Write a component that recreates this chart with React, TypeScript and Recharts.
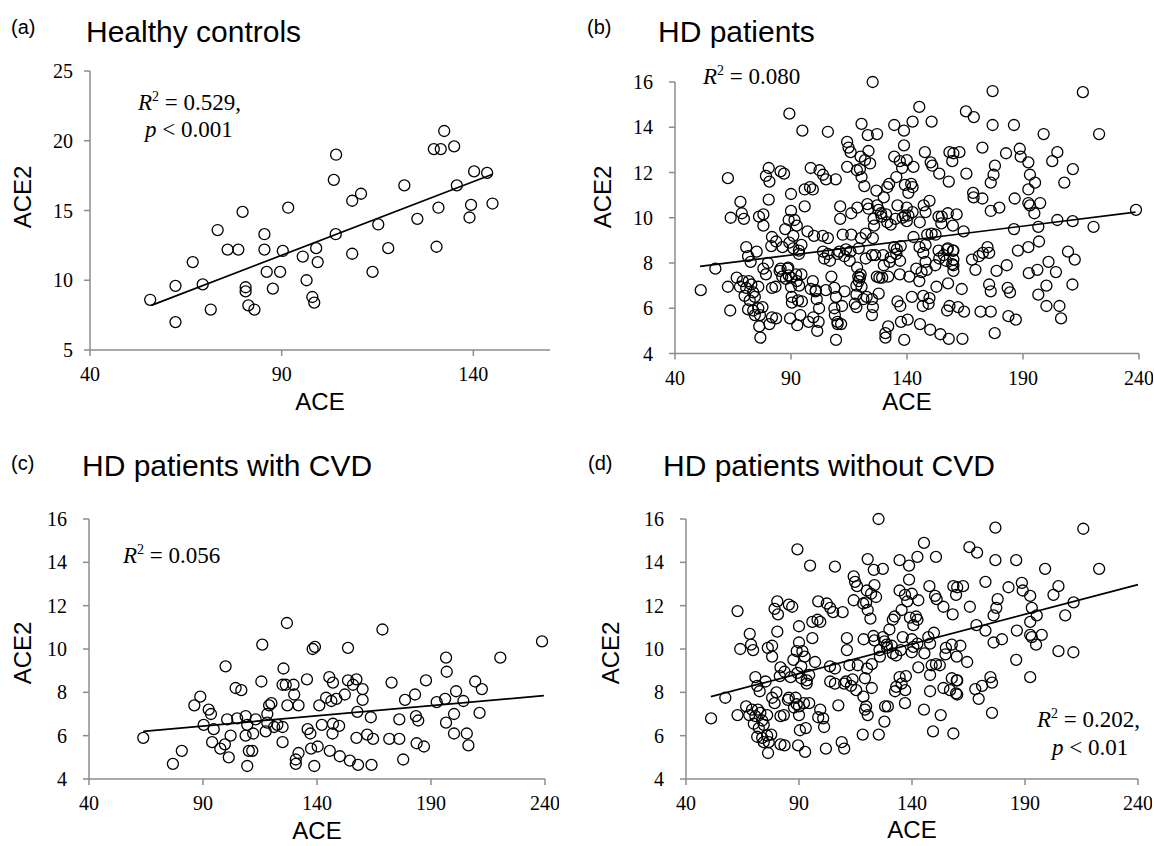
import React from "react";
import { ScatterChart, Scatter, XAxis, YAxis } from "recharts";

// ACE (x) vs ACE2 (y)
const healthy: [number, number][] = [
  [55.7, 8.6], [62.3, 9.6], [62.3, 7.0], [66.8, 11.3], [69.4, 9.7], [71.5, 7.9], [73.3, 13.6],
  [75.9, 12.2], [78.7, 12.2], [79.8, 14.9], [80.6, 9.5], [80.6, 9.2], [81.3, 8.2], [82.9, 7.9],
  [85.5, 13.3], [85.5, 12.2], [86.1, 10.6], [87.7, 9.4], [89.6, 10.6], [90.3, 12.1], [91.7, 15.2],
  [95.5, 11.7], [96.5, 10.0], [98.0, 8.8], [98.5, 8.4], [99.0, 12.3], [99.4, 11.3], [103.6, 17.2],
  [104.2, 19.0], [104.1, 13.3], [108.4, 15.7], [108.4, 11.9], [110.7, 16.2], [113.7, 10.6],
  [115.2, 14.0], [117.8, 12.3], [122.0, 16.8], [125.4, 14.4], [129.7, 19.4], [130.4, 12.4],
  [130.9, 15.2], [131.5, 19.4], [132.4, 20.7], [135.0, 19.6], [135.7, 16.8], [139.0, 14.5],
  [139.4, 15.4], [140.2, 17.8], [143.6, 17.7], [145.0, 15.5],
];

const withCvd: [number, number][] = [
  [63.8, 5.9], [76.8, 4.7], [80.7, 5.3], [86.2, 7.4], [88.8, 7.8], [90.3, 6.5], [92.5, 7.2],
  [93.5, 7.0], [94.7, 6.3], [94.0, 5.7], [97.6, 5.4], [99.6, 5.6], [101.3, 5.0], [99.9, 9.2],
  [102.1, 6.0], [100.6, 6.75], [104.3, 8.2], [106.8, 8.1], [105.0, 6.8], [108.7, 6.9], [108.7, 6.0],
  [109.4, 4.6], [110.1, 5.3], [111.6, 5.3], [109.4, 6.5], [112.0, 6.1], [113.1, 6.75], [115.6, 8.5],
  [116.0, 10.2], [117.5, 6.2], [118.2, 7.0], [119.0, 7.4], [120.0, 7.5], [118.2, 6.6], [121.2, 6.4],
  [122.6, 6.5], [124.9, 6.4], [124.9, 5.7], [125.3, 9.1], [124.9, 8.35], [126.3, 8.35], [126.8, 11.2],
  [127.0, 7.4], [129.7, 8.35], [130.0, 7.9], [131.9, 7.4], [130.7, 4.9], [130.7, 4.7], [131.9, 5.2],
  [135.6, 8.6], [135.9, 6.3], [137.1, 6.1], [137.4, 5.4], [138.1, 10.0], [139.1, 10.1], [138.8, 4.6],
  [140.3, 5.5], [141.0, 7.4], [142.1, 6.5], [144.0, 7.75], [145.4, 8.7],
  [168.7, 10.9], [238.7, 10.35], [220.4, 9.6], [196.6, 9.6], [196.9, 8.95], [153.6, 10.05],
  [147.0, 8.45], [153.6, 8.55], [157.3, 8.6], [155.8, 8.35], [160.0, 8.15], [172.7, 8.45],
  [187.8, 8.55], [183.0, 7.9], [178.6, 7.65], [160.0, 7.65], [152.2, 7.9], [148.5, 7.7], [146.3, 7.6],
  [157.7, 7.1], [163.6, 6.85], [176.1, 6.75], [183.4, 6.9], [184.4, 6.7], [192.5, 7.55], [196.2, 7.7],
  [201.0, 8.05], [204.2, 7.6], [209.4, 8.5], [212.3, 8.15], [200.1, 7.0], [211.3, 7.05], [196.6, 6.6],
  [200.1, 6.1], [205.7, 6.1], [206.4, 5.55], [147.0, 6.55], [149.7, 6.45], [146.8, 6.1], [157.3, 5.9],
  [162.0, 6.05], [164.6, 5.85], [171.7, 5.85], [176.1, 5.85], [183.7, 5.65], [186.9, 5.5],
  [177.8, 4.9], [145.6, 5.3], [150.0, 5.05], [154.4, 4.85], [158.0, 4.65], [163.9, 4.65],
];

const withoutCvd: [number, number][] = [
  [51.1, 6.8], [57.4, 7.75], [62.8, 11.75], [64.0, 10.0], [68.2, 10.7], [68.8, 10.2], [69.7, 9.95],
  [70.7, 8.7], [66.6, 7.35], [62.8, 6.95], [68.0, 6.95], [69.2, 7.2], [70.7, 6.9], [71.8, 7.2],
  [72.9, 7.05], [73.7, 6.7], [70.0, 6.55], [72.2, 6.35], [74.4, 6.5], [75.9, 6.95], [71.5, 5.95],
  [73.7, 5.9], [74.4, 5.7], [75.9, 6.0], [77.7, 6.05], [76.6, 5.7], [76.3, 5.2], [72.6, 8.05],
  [75.2, 8.5], [71.5, 8.3], [78.1, 7.75], [79.2, 7.5], [80.0, 8.0], [81.8, 9.15], [81.5, 8.75],
  [76.2, 10.05], [78.1, 10.15], [78.1, 9.65], [80.4, 10.8], [80.4, 12.2], [79.2, 11.85], [80.7, 11.6],
  [85.5, 12.05], [87.0, 11.95], [81.8, 5.6], [83.6, 5.55], [81.8, 6.9], [83.3, 6.95], [85.1, 7.65],
  [85.5, 7.75], [86.3, 8.7], [83.6, 8.95], [87.5, 9.5], [89.0, 9.9], [90.0, 11.05], [90.0, 10.3],
  [91.5, 9.9], [92.5, 9.65], [91.0, 9.2], [89.3, 8.9], [91.0, 8.65], [93.4, 8.55], [94.5, 8.8],
  [93.4, 8.4], [88.5, 7.75], [89.0, 7.45], [90.0, 7.35], [87.8, 7.3], [92.2, 7.5], [94.5, 7.5],
  [90.0, 6.95], [90.4, 6.25], [93.0, 6.35], [89.6, 5.55], [92.7, 5.25], [89.3, 14.6], [94.9, 13.85],
  [95.9, 11.25], [98.2, 11.35], [99.4, 11.25], [98.5, 12.2], [102.3, 12.1], [103.8, 11.9],
  [105.9, 13.8], [105.1, 11.7], [109.3, 11.7], [95.9, 10.5], [97.1, 9.4], [99.4, 7.2], [100.7, 6.8],
  [98.5, 6.85], [101.1, 6.4], [101.9, 5.4], [103.8, 8.5], [105.9, 9.1], [107.4, 7.4], [108.9, 5.7],
  [110.0, 5.4], [111.2, 10.5], [111.2, 9.95], [110.8, 8.5], [112.3, 9.25], [113.7, 8.6],
  [114.2, 13.35], [114.8, 13.1], [115.7, 12.9], [114.2, 12.25], [116.0, 9.25], [115.3, 8.1],
  [118.2, 6.05], [118.6, 10.45], [119.7, 12.15], [120.4, 14.15], [120.4, 11.8], [121.6, 11.4],
  [121.9, 12.55], [123.1, 13.65], [123.4, 12.95], [124.1, 12.4], [127.1, 13.7], [125.2, 16.0],
  [120.1, 9.1], [119.7, 7.35], [119.2, 7.2], [120.4, 6.95], [122.2, 8.2], [125.3, 6.05],
  [123.4, 10.4], [125.6, 9.95], [127.1, 10.55], [127.8, 10.35], [129.0, 10.05], [130.0, 10.9],
  [131.5, 11.35], [132.3, 11.5], [131.5, 9.8], [133.0, 9.7], [128.1, 7.35], [129.3, 7.35],
  [127.8, 6.65], [133.0, 8.25], [134.5, 8.7], [134.5, 14.1], [134.5, 12.7],
  [120.0, 12.7], [118.4, 12.1], [122.9, 10.6], [128.8, 10.2], [131.0, 10.15], [125.8, 9.65],
  [103.7, 9.2], [122.2, 9.3], [119.2, 8.65], [105.9, 8.4], [118.5, 7.8], [132.5, 8.05],
  [136.9, 7.5], [135.4, 8.4], [137.0, 8.1], [110.0, 8.4], [113.0, 8.3],
  [138.7, 13.85], [142.4, 14.25], [145.3, 14.9], [150.6, 14.25], [138.7, 13.2], [136.9, 12.5],
  [139.9, 12.55], [137.9, 12.2], [142.8, 12.25], [147.7, 12.9], [150.2, 12.45], [150.9, 12.3],
  [153.9, 11.95], [158.3, 12.9], [159.5, 12.5], [158.0, 11.6], [139.1, 11.45], [141.8, 11.5],
  [142.4, 11.35], [140.6, 11.1], [135.4, 11.8], [135.9, 10.55], [135.0, 9.95], [139.9, 10.45],
  [140.6, 10.1], [139.9, 9.85], [142.4, 10.25], [145.5, 9.8], [147.2, 10.55], [149.7, 10.75],
  [148.0, 10.25], [155.0, 10.05], [157.6, 10.2], [159.8, 9.65], [142.8, 9.15], [148.7, 9.25],
  [150.6, 9.3], [148.0, 8.8], [153.9, 8.2], [157.6, 8.65], [159.8, 8.55], [156.8, 8.1],
  [159.5, 7.95], [148.0, 8.05], [145.3, 7.2], [152.7, 6.95], [149.3, 6.2], [158.3, 6.1],
  [137.3, 8.75], [154.8, 9.75], [152.3, 9.25],
  [176.9, 15.6], [215.8, 15.55], [222.8, 13.7], [198.9, 13.7], [186.1, 14.1], [176.9, 14.1],
  [165.4, 14.7], [168.8, 14.45], [172.5, 13.1], [182.7, 12.85], [188.6, 13.05], [189.0, 12.7],
  [192.3, 12.45], [204.8, 12.9], [202.6, 12.5], [211.5, 12.15], [207.8, 11.55], [193.0, 11.9],
  [195.2, 11.55], [192.3, 11.25], [197.4, 10.65], [192.3, 10.65], [193.0, 10.55], [186.4, 10.85],
  [194.9, 10.2], [179.8, 10.45], [176.1, 10.3], [177.3, 11.9], [177.9, 12.3], [176.1, 11.55],
  [172.5, 10.85], [168.5, 11.1], [165.6, 11.95], [162.6, 12.9], [160.0, 12.85], [204.8, 9.9],
  [211.4, 9.85], [186.1, 9.5], [192.3, 8.7], [175.4, 7.05], [169.5, 7.7], [168.0, 8.15],
  [171.0, 8.3], [174.7, 8.7], [175.4, 8.45], [164.4, 9.4], [161.4, 10.15], [160.0, 8.55], [160.0, 7.9],
];

// panel (b) is every HD patient, i.e. both groups together
const allHd: [number, number][] = [...withCvd, ...withoutCvd];

// trend line end points
const healthyTrend: [number, number][] = [[56, 8.2], [145, 17.6]];
const allHdTrend: [number, number][] = [[50.8, 7.85], [238.5, 10.25]];
const withCvdTrend: [number, number][] = [[63.8, 6.2], [239.5, 7.85]];
const withoutCvdTrend: [number, number][] = [[51, 7.8], [240, 12.97]];

const healthyXTicks = [40, 90, 140];
const healthyYTicks = [5, 10, 15, 20, 25];
const hdXTicks = [40, 90, 140, 190, 240];
const hdYTicks = [4, 6, 8, 10, 12, 14, 16];

const AXIS = "#8c8c8c";
const SERIF = "'Liberation Serif', 'Times New Roman', serif";
const SANS = "'Liberation Sans', Arial, sans-serif";
const Y_W = 60;
const X_H = 45;
const PAD_T = 12;
const PAD_R = 14;

const toRows = (pts: [number, number][]) => pts.map(([x, y]) => ({ x, y }));

const Ring = (p: any) => (
  <circle cx={p.cx} cy={p.cy} r={5.5} fill="none" stroke="#000" strokeWidth={1.3} />
);
const NoDot = () => <g />;

type PanelProps = {
  box: [number, number, number, number];
  xDomain: [number, number];
  yDomain: [number, number];
  xTicks: number[];
  yTicks: number[];
  points: [number, number][];
  trend: [number, number][];
  yGap: number;
};

function Panel({ box, xDomain, yDomain, xTicks, yTicks, points, trend, yGap }: PanelProps) {
  const [x0, x1, y0, y1] = box;
  const width = x1 - x0 + Y_W + PAD_R;
  const height = y1 - y0 + PAD_T + X_H;
  const tick = { fill: "#000", fontSize: 20, fontFamily: SERIF };
  return (
    <div style={{ position: "absolute", left: x0 - Y_W, top: y0 - PAD_T }}>
      <ScatterChart
        width={width}
        height={height}
        margin={{ top: PAD_T, right: PAD_R, bottom: 0, left: 0 }}
      >
        <XAxis
          type="number"
          dataKey="x"
          domain={xDomain}
          ticks={xTicks}
          interval={0}
          height={X_H}
          axisLine={{ stroke: AXIS, strokeWidth: 1.5 }}
          tickLine={{ stroke: AXIS, strokeWidth: 1.5 }}
          tickSize={6}
          tickMargin={11}
          tick={tick}
        />
        <YAxis
          type="number"
          dataKey="y"
          domain={yDomain}
          ticks={yTicks}
          interval={0}
          width={Y_W}
          axisLine={{ stroke: AXIS, strokeWidth: 1.5 }}
          tickLine={{ stroke: AXIS, strokeWidth: 1.5 }}
          tickSize={6}
          tickMargin={yGap}
          tick={tick}
        />
        <Scatter data={toRows(points)} shape={Ring} isAnimationActive={false} />
        <Scatter
          data={toRows(trend)}
          shape={NoDot}
          line={{ stroke: "#000", strokeWidth: 1.7 }}
          isAnimationActive={false}
        />
      </ScatterChart>
    </div>
  );
}

function RText({ x, y, value }: { x: number; y: number; value: string }) {
  return (
    <text x={x} y={y} fontFamily={SERIF} fontSize={23} fill="#000">
      <tspan fontStyle="italic">R</tspan>
      <tspan fontSize={14} dy={-9}>2</tspan>
      <tspan dy={9}>{` = ${value}`}</tspan>
    </text>
  );
}

function PText({ x, y, value }: { x: number; y: number; value: string }) {
  return (
    <text x={x} y={y} fontFamily={SERIF} fontSize={23} fill="#000">
      <tspan fontStyle="italic">p</tspan>
      <tspan>{` < ${value}`}</tspan>
    </text>
  );
}

function Titles() {
  const small = { fontFamily: SANS, fontSize: 20, fill: "#000" };
  const big = { fontFamily: SANS, fontSize: 30, fill: "#000" };
  const axis = { fontFamily: SANS, fontSize: 24, fill: "#000", textAnchor: "middle" as const };
  const rot = (x: number, y: number) => ({ x, y, transform: `rotate(-90 ${x} ${y})` });
  return (
    <svg
      width={1154}
      height={846}
      style={{ position: "absolute", left: 0, top: 0, pointerEvents: "none" }}
    >
      <text x={11} y={34} {...small}>(a)</text>
      <text x={86} y={42} {...big}>Healthy controls</text>
      <text x={587} y={34} {...small}>(b)</text>
      <text x={658} y={42} {...big}>HD patients</text>
      <text x={11} y={470} {...small}>(c)</text>
      <text x={82} y={476} {...big}>HD patients with CVD</text>
      <text x={588} y={470} {...small}>(d)</text>
      <text x={663} y={476} {...big}>HD patients without CVD</text>

      <text x={320} y={410} {...axis}>ACE</text>
      <text x={907} y={410} {...axis}>ACE</text>
      <text x={317} y={839} {...axis}>ACE</text>
      <text x={912} y={838} {...axis}>ACE</text>

      <text {...rot(31, 197)} {...axis}>ACE2</text>
      <text {...rot(611, 197)} {...axis}>ACE2</text>
      <text {...rot(31, 653)} {...axis}>ACE2</text>
      <text {...rot(619, 653)} {...axis}>ACE2</text>

      <RText x={138} y={110} value="0.529," />
      <PText x={145} y={137} value="0.001" />
      <RText x={703} y={84} value="0.080" />
      <RText x={123} y={563} value="0.056" />
      <RText x={1037} y={727} value="0.202," />
      <PText x={1052} y={755} value="0.01" />
    </svg>
  );
}

export default function App() {
  return (
    <div
      style={{
        position: "absolute",
        left: 0,
        top: 0,
        width: 1154,
        height: 846,
        background: "#fff",
        overflow: "hidden",
      }}
    >
      <Panel
        box={[90, 550, 71, 350]}
        xDomain={[40, 160]}
        yDomain={[5, 25]}
        xTicks={healthyXTicks}
        yTicks={healthyYTicks}
        points={healthy}
        trend={healthyTrend}
        yGap={11}
      />
      <Panel
        box={[675, 1139, 81.5, 353]}
        xDomain={[40, 240]}
        yDomain={[4, 16]}
        xTicks={hdXTicks}
        yTicks={hdYTicks}
        points={allHd}
        trend={allHdTrend}
        yGap={16}
      />
      <Panel
        box={[89, 545, 519, 779]}
        xDomain={[40, 240]}
        yDomain={[4, 16]}
        xTicks={hdXTicks}
        yTicks={hdYTicks}
        points={withCvd}
        trend={withCvdTrend}
        yGap={16}
      />
      <Panel
        box={[686, 1138, 519, 779]}
        xDomain={[40, 240]}
        yDomain={[4, 16]}
        xTicks={hdXTicks}
        yTicks={hdYTicks}
        points={withoutCvd}
        trend={withoutCvdTrend}
        yGap={16}
      />
      <Titles />
    </div>
  );
}
